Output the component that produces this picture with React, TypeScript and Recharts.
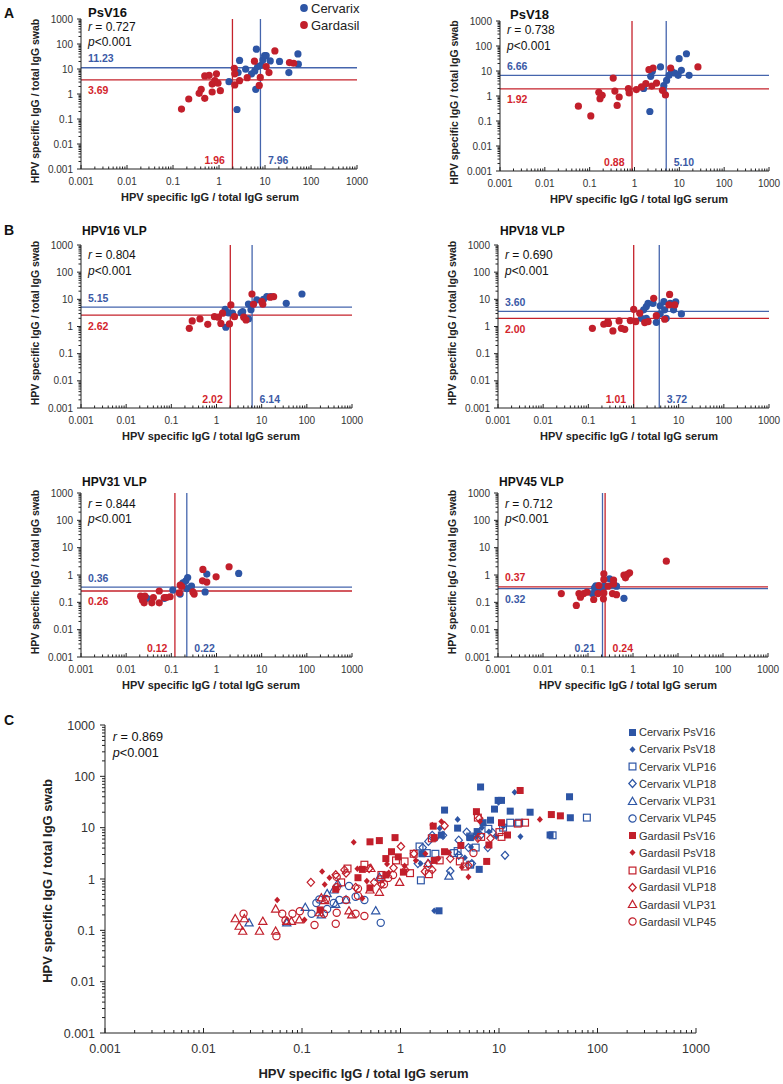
import React from 'react';
import { ScatterChart, Scatter, XAxis, YAxis, ReferenceLine, Legend } from 'recharts';

const FONT = '"Liberation Sans", Arial, Helvetica, sans-serif';
const BLUE = '#2d55a5';
const RED = '#c21f2b';
const BLUE_LINE = '#4565ad';
const RED_LINE = '#c5222b';
const BLUE_TEXT = '#3b5aa6';
const RED_TEXT = '#d3252d';
const AXIS = '#222';
const TICK = '#333';

// axis ticks (log 10, decades labelled)
const decades = [0.001, 0.01, 0.1, 1, 10, 100, 1000];
const minorSteps = [2, 3, 4, 5, 6, 7, 8, 9];
const logTicks = [
  ...decades,
  ...decades.slice(0, -1).flatMap((d) => minorSteps.map((m) => Number((d * m).toPrecision(2)))),
].sort((a, b) => a - b);
const isMajor = (v: number) => decades.includes(v);

// [serum ratio, swab ratio] per woman
const psv16Cervarix = [
  [1.65, 3.1], [2.46, 0.24], [2.6, 7.2], [2.8, 22], [3.8, 9.8], [5.1, 6.4], [6.0, 8.4], [6.5, 62],
  [6.3, 1.54], [6.9, 12.5], [8.2, 14], [9.0, 23], [9.8, 34], [10.6, 34], [13, 21], [20.7, 20],
  [33, 7.2], [52, 40], [53, 15.6],
];
const psv16Gardasil = [
  [0.153, 0.25], [0.22, 0.63], [0.37, 1.06], [0.41, 1.54], [0.49, 0.67], [0.49, 5.3], [0.61, 5.6],
  [0.71, 1.2], [0.71, 2.5], [0.81, 3.4], [0.88, 6.4], [0.95, 2.7], [1.07, 1.36], [2.15, 10.7],
  [2.2, 2.3], [2.2, 6.4], [2.8, 3.4], [4.1, 4.5], [5.9, 20.5], [7.9, 4.6], [7.5, 2.2], [16.4, 53],
  [10.6, 12.5], [12.2, 7.2], [34, 18], [42, 17],
];
const psv18Cervarix = [
  [2.2, 0.24], [2.3, 6.1], [2.5, 9.7], [3.8, 14.5], [4.5, 2.6], [5.2, 4.2], [5.9, 6.7], [6.7, 10],
  [7.9, 8.3], [9.4, 6.7], [9.9, 31], [11.1, 10.6], [14.4, 49], [16.5, 6.7], [1.6, 2.0],
];
const psv18Gardasil = [
  [0.056, 0.39], [0.106, 0.16], [0.16, 1.4], [0.17, 0.78], [0.19, 1.06], [0.335, 5.2], [0.365, 1.58],
  [0.41, 0.42], [0.455, 0.91], [0.73, 1.96], [0.76, 1.32], [1.1, 1.8], [1.43, 2.3], [1.79, 3.1],
  [2.1, 11.3], [2.43, 2.5], [2.6, 13.2], [3.1, 3.3], [4.2, 1.69], [4.9, 1.1], [6.4, 13.2], [26, 14.5],
];
const vlp16Cervarix = [
  [1.56, 4.3], [1.61, 0.94], [1.85, 3.2], [2.26, 3.1], [3.5, 3.2], [3.8, 3.5], [5.1, 1.9], [5.1, 6.7],
  [5.8, 4.1], [7.8, 9.5], [11, 10], [13, 12.5], [16, 12.5], [35, 7.1], [78, 15.7],
];
const vlp16Gardasil = [
  [0.25, 0.86], [0.29, 1.6], [0.43, 1.9], [0.64, 1.2], [0.9, 2.3], [1.1, 2.2], [1.25, 1.3], [1.36, 3.1],
  [1.94, 1.24], [2.08, 6.2], [2.5, 2.3], [4.0, 2.2], [4.5, 1.75], [6.1, 15.7], [6.6, 6.6], [10.1, 8.2],
  [10.6, 6.6], [18.4, 12.5], [15.5, 12],
];
const vlp18Cervarix = [
  [1.5, 2.0], [1.68, 4.1], [1.92, 5.4], [2.1, 7.1], [1.92, 2.0], [2.7, 7.1], [3.2, 1.43], [3.9, 5.7],
  [3.9, 2.9], [4.7, 8.2], [4.9, 4.1], [5.3, 2.0], [6.5, 7.1], [7.7, 4.1], [8.6, 8.0], [11.5, 2.9],
];
const vlp18Gardasil = [
  [0.123, 0.86], [0.22, 1.21], [0.27, 1.5], [0.28, 1.3], [0.35, 0.69], [0.48, 1.6], [0.54, 0.86],
  [0.64, 0.79], [0.85, 1.65], [1.01, 4.3], [1.12, 1.5], [1.37, 3.1], [1.77, 1.4], [2.1, 1.5],
  [2.8, 10.9], [3.2, 2.5], [4.9, 1.85], [6.1, 6.2], [6.3, 15.2], [8.2, 6.2],
];
const vlp31Cervarix = [
  [0.029, 0.14], [0.07, 0.14], [0.108, 0.28], [0.157, 0.2], [0.18, 0.52], [0.21, 0.61], [0.23, 0.81],
  [0.22, 0.32], [0.28, 0.39], [0.56, 0.24], [0.61, 1.08], [3.1, 1.14],
];
const vlp31Gardasil = [
  [0.021, 0.168], [0.023, 0.12], [0.026, 0.168], [0.025, 0.096], [0.037, 0.096], [0.04, 0.15],
  [0.054, 0.096], [0.054, 0.26], [0.07, 0.15], [0.078, 0.15], [0.094, 0.16], [0.15, 0.22],
  [0.157, 0.43], [0.17, 0.38], [0.32, 0.2], [0.5, 1.6], [0.49, 0.61], [0.61, 0.55], [0.98, 0.86],
  [1.9, 2.0], [0.3, 0.24],
];
const vlp45Cervarix = [
  [0.125, 0.21], [0.14, 0.34], [0.15, 0.4], [0.18, 0.26], [0.21, 0.34], [0.3, 0.73], [0.35, 0.45],
  [0.43, 0.39], [0.63, 0.14], [0.24, 0.39],
];
const vlp45Gardasil = [
  [0.0255, 0.21], [0.055, 0.077], [0.063, 0.21], [0.068, 0.155], [0.08, 0.21], [0.095, 0.236],
  [0.134, 0.127], [0.167, 0.21], [0.175, 0.41], [0.22, 0.134], [0.225, 0.22], [0.225, 0.69],
  [0.225, 1.1], [0.28, 0.39], [0.35, 0.21], [0.37, 0.65], [0.43, 0.19], [0.63, 0.99], [0.68, 0.79],
  [0.84, 1.2], [0.75, 1.05], [5.5, 3.2], [0.37, 0.47],
];

// cut-offs: [Cervarix serum, Cervarix swab, Gardasil serum, Gardasil swab]
const psv16Cutoffs = [7.96, 11.23, 1.96, 3.69];
const psv18Cutoffs = [5.1, 6.66, 0.88, 1.92];
const vlp16Cutoffs = [6.14, 5.15, 2.02, 2.62];
const vlp18Cutoffs = [3.72, 3.6, 1.01, 2.0];
const vlp31Cutoffs = [0.22, 0.36, 0.12, 0.26];
const vlp45Cutoffs = [0.21, 0.32, 0.24, 0.37];

const toXY = (arr: number[][]) => arr.map(([x, y]) => ({ x, y }));

const panels = [
  { title: 'PsV16', r: '0.727', cerv: psv16Cervarix, gard: psv16Gardasil, cut: psv16Cutoffs,
    plot: { left: 81, right: 357, top: 19, bottom: 169 }, titleX: 88, titleY: 17, titleSize: 13, statY: 30.5,
    xTitleX: 210, yTitleY: 101, legend: true },
  { title: 'PsV18', r: '0.738', cerv: psv18Cervarix, gard: psv18Gardasil, cut: psv18Cutoffs,
    plot: { left: 500, right: 769, top: 21, bottom: 171 }, titleX: 510, titleY: 18.5, titleSize: 13, statY: 34,
    xTitleX: 639, yTitleY: 102.5 },
  { title: 'HPV16 VLP', r: '0.804', cerv: vlp16Cervarix, gard: vlp16Gardasil, cut: vlp16Cutoffs,
    plot: { left: 81, right: 352, top: 245, bottom: 408 }, titleX: 82, titleY: 234.5, titleSize: 12, statY: 259.3,
    xTitleX: 211, yTitleY: 323 },
  { title: 'HPV18 VLP', r: '0.690', cerv: vlp18Cervarix, gard: vlp18Gardasil, cut: vlp18Cutoffs,
    plot: { left: 498, right: 769, top: 245, bottom: 408 }, titleX: 500, titleY: 234.5, titleSize: 12, statY: 259.3,
    xTitleX: 629, yTitleY: 323 },
  { title: 'HPV31 VLP', r: '0.844', cerv: vlp31Cervarix, gard: vlp31Gardasil, cut: vlp31Cutoffs,
    plot: { left: 81, right: 352, top: 493, bottom: 657 }, titleX: 82, titleY: 486.3, titleSize: 12, statY: 507.5,
    xTitleX: 211, yTitleY: 572 },
  { title: 'HPV45 VLP', r: '0.712', cerv: vlp45Cervarix, gard: vlp45Gardasil, cut: vlp45Cutoffs,
    plot: { left: 498, right: 768, top: 493, bottom: 657 }, titleX: 499, titleY: 486.3, titleSize: 12, statY: 507.5,
    xTitleX: 628, yTitleY: 572 },
];

const seriesC = [
  { name: 'Cervarix PsV16', data: psv16Cervarix, color: BLUE, kind: 'fsquare' },
  { name: 'Cervarix PsV18', data: psv18Cervarix, color: BLUE, kind: 'fdiamond' },
  { name: 'Cervarix VLP16', data: vlp16Cervarix, color: BLUE, kind: 'osquare' },
  { name: 'Cervarix VLP18', data: vlp18Cervarix, color: BLUE, kind: 'odiamond' },
  { name: 'Cervarix VLP31', data: vlp31Cervarix, color: BLUE, kind: 'otriangle' },
  { name: 'Cervarix VLP45', data: vlp45Cervarix, color: BLUE, kind: 'ocircle' },
  { name: 'Gardasil PsV16', data: psv16Gardasil, color: RED, kind: 'fsquare' },
  { name: 'Gardasil PsV18', data: psv18Gardasil, color: RED, kind: 'fdiamond' },
  { name: 'Gardasil VLP16', data: vlp16Gardasil, color: RED, kind: 'osquare' },
  { name: 'Gardasil VLP18', data: vlp18Gardasil, color: RED, kind: 'odiamond' },
  { name: 'Gardasil VLP31', data: vlp31Gardasil, color: RED, kind: 'otriangle' },
  { name: 'Gardasil VLP45', data: vlp45Gardasil, color: RED, kind: 'ocircle' },
];
const plotC = { left: 105, right: 696, top: 725, bottom: 1033 };

function Marker({ kind, color, cx, cy }: { kind: string; color: string; cx: number; cy: number }) {
  const sw = 1.2;
  switch (kind) {
    case 'fsquare':
      return <rect x={cx - 3.5} y={cy - 3.5} width={7} height={7} fill={color} />;
    case 'fdiamond':
      return <path d={`M${cx},${cy - 3.3}L${cx + 3},${cy}L${cx},${cy + 3.3}L${cx - 3},${cy}Z`} fill={color} />;
    case 'osquare':
      return <rect x={cx - 3.4} y={cy - 3.4} width={6.8} height={6.8} fill="none" stroke={color} strokeWidth={sw} />;
    case 'odiamond':
      return <path d={`M${cx},${cy - 4}L${cx + 3.7},${cy}L${cx},${cy + 4}L${cx - 3.7},${cy}Z`} fill="none" stroke={color} strokeWidth={sw} />;
    case 'otriangle':
      return <path d={`M${cx},${cy - 4.2}L${cx + 4.1},${cy + 3}L${cx - 4.1},${cy + 3}Z`} fill="none" stroke={color} strokeWidth={sw} />;
    default:
      return <circle cx={cx} cy={cy} r={3.6} fill="none" stroke={color} strokeWidth={sw} />;
  }
}

const makeXTick = (big: boolean) => (p: any) => {
  const { x, y, payload } = p;
  const v = payload.value;
  const major = isMajor(v);
  const len = major ? (big ? 5 : 4) : big ? 3 : 2.5;
  return (
    <g>
      <line x1={x} x2={x} y1={y} y2={y - len} stroke={AXIS} strokeWidth={1} />
      {major && (
        <text x={x} y={y + (big ? 19.5 : 15.5)} textAnchor="middle" fontSize={big ? 12.5 : 10} fill={TICK} fontFamily={FONT}>
          {String(v)}
        </text>
      )}
    </g>
  );
};

const makeYTick = (big: boolean) => (p: any) => {
  const { x, y, payload } = p;
  const v = payload.value;
  const major = isMajor(v);
  const len = major ? (big ? 5 : 4) : big ? 3 : 2.5;
  return (
    <g>
      <line x1={x} x2={x - len} y1={y} y2={y} stroke={AXIS} strokeWidth={1} />
      {major && (
        <text x={x - (big ? 10 : 8)} y={y + (big ? 4.5 : 3.6)} textAnchor="end" fontSize={big ? 12.5 : 10} fill={TICK} fontFamily={FONT}>
          {String(v)}
        </text>
      )}
    </g>
  );
};

const refLabel = (text: string, color: string, where: string) => (props: any) => {
  const { x, y, height } = props.viewBox;
  let tx = x + 7;
  let ty = y;
  let anchor = 'start';
  if (where === 'above') ty = y - 5.5;
  else if (where === 'below') ty = y + 14.5;
  else if (where === 'left') {
    tx = x - 7.5;
    ty = y + height - 5;
    anchor = 'end';
  } else {
    tx = x + 7.5;
    ty = y + height - 5;
  }
  return (
    <text x={tx} y={ty} textAnchor={anchor} fill={color} fontSize={10.5} fontWeight="bold" fontFamily={FONT}>
      {text}
    </text>
  );
};

const legendA = (props: any) => (
  <div style={{ fontFamily: FONT, fontSize: 13, color: '#222' }}>
    {(props.payload || []).map((e: any) => (
      <div key={e.value} style={{ height: 16.7, display: 'flex', alignItems: 'center' }}>
        <svg width={12} height={12} style={{ marginRight: 1 }}>
          <circle cx={6} cy={6} r={3.9} fill={e.color} />
        </svg>
        <span>{e.value}</span>
      </div>
    ))}
  </div>
);

const legendC = (props: any) => (
  <div style={{ fontFamily: FONT, fontSize: 11, color: '#333' }}>
    {(props.payload || []).map((e: any) => {
      const s = seriesC.find((c) => c.name === e.value);
      return (
        <div key={e.value} style={{ height: 17.27, display: 'flex', alignItems: 'center' }}>
          <svg width={11} height={11} style={{ marginRight: 1 }}>
            <Marker kind={s ? s.kind : 'ocircle'} color={s ? s.color : e.color} cx={5.5} cy={5.5} />
          </svg>
          <span>{e.value}</span>
        </div>
      );
    })}
  </div>
);

const YW = 75;
const MT = 20;
const XH = 45;

function SmallPanel({ cfg }: { cfg: any }) {
  const { plot, cut } = cfg;
  const mr = 22;
  const width = plot.right - plot.left + YW + mr;
  const height = plot.bottom - plot.top + MT + XH;
  const [cX, cY, gX, gY] = cut;
  const dot = (color: string) => (p: any) => <circle cx={p.cx} cy={p.cy} r={3.6} fill={color} />;
  return (
    <div style={{ position: 'absolute', left: plot.left - YW, top: plot.top - MT }}>
      <ScatterChart width={width} height={height} margin={{ top: MT, right: mr, bottom: 0, left: 0 }}>
        <XAxis type="number" dataKey="x" scale="log" domain={[0.001, 1000]} allowDataOverflow ticks={logTicks}
          interval={0} tickSize={0} tickMargin={0} tickLine={false} height={XH}
          axisLine={{ stroke: AXIS, strokeWidth: 1 }} tick={makeXTick(false)} />
        <YAxis type="number" dataKey="y" scale="log" domain={[0.001, 1000]} allowDataOverflow ticks={logTicks}
          interval={0} tickSize={0} tickMargin={0} tickLine={false} width={YW}
          axisLine={{ stroke: AXIS, strokeWidth: 1 }} tick={makeYTick(false)} />
        <ReferenceLine y={cY} stroke={BLUE_LINE} strokeWidth={1.3}
          label={refLabel(cY.toFixed(2), BLUE_TEXT, cY > gY ? 'above' : 'below')} />
        <ReferenceLine y={gY} stroke={RED_LINE} strokeWidth={1.3}
          label={refLabel(gY.toFixed(2), RED_TEXT, gY > cY ? 'above' : 'below')} />
        <ReferenceLine x={cX} stroke={BLUE_LINE} strokeWidth={1.3}
          label={refLabel(cX.toFixed(2), BLUE_TEXT, cX > gX ? 'right' : 'left')} />
        <ReferenceLine x={gX} stroke={RED_LINE} strokeWidth={1.3}
          label={refLabel(gX.toFixed(2), RED_TEXT, gX > cX ? 'right' : 'left')} />
        <Scatter name="Cervarix" data={toXY(cfg.cerv)} fill={BLUE} shape={dot(BLUE)} isAnimationActive={false} />
        <Scatter name="Gardasil" data={toXY(cfg.gard)} fill={RED} shape={dot(RED)} isAnimationActive={false} />
        {cfg.legend && (
          <Legend layout="vertical" align="center" verticalAlign="middle" content={legendA}
            wrapperStyle={{ position: 'absolute', left: 298 - (plot.left - YW), top: 0 - (plot.top - MT), width: 80 }} />
        )}
      </ScatterChart>
    </div>
  );
}

function BigPanel() {
  const mr = 783 - plotC.right;
  const width = plotC.right - plotC.left + YW + mr;
  const height = plotC.bottom - plotC.top + MT + 51;
  const left = plotC.left - YW;
  const top = plotC.top - MT;
  return (
    <div style={{ position: 'absolute', left, top }}>
      <ScatterChart width={width} height={height} margin={{ top: MT, right: mr, bottom: 0, left: 0 }}>
        <XAxis type="number" dataKey="x" scale="log" domain={[0.001, 1000]} allowDataOverflow ticks={logTicks}
          interval={0} tickSize={0} tickMargin={0} tickLine={false} height={51}
          axisLine={{ stroke: AXIS, strokeWidth: 1 }} tick={makeXTick(true)} />
        <YAxis type="number" dataKey="y" scale="log" domain={[0.001, 1000]} allowDataOverflow ticks={logTicks}
          interval={0} tickSize={0} tickMargin={0} tickLine={false} width={YW}
          axisLine={{ stroke: AXIS, strokeWidth: 1 }} tick={makeYTick(true)} />
        {seriesC.map((s) => (
          <Scatter key={s.name} name={s.name} data={toXY(s.data)} fill={s.color}
            shape={(p: any) => <Marker kind={s.kind} color={s.color} cx={p.cx} cy={p.cy} />}
            isAnimationActive={false} />
        ))}
        <Legend layout="vertical" align="center" verticalAlign="middle" content={legendC}
          wrapperStyle={{ position: 'absolute', left: 627 - left, top: 723.4 - top, width: 120 }} />
      </ScatterChart>
    </div>
  );
}

function Stat({ x, y, r, size = 12 }: { x: number; y: number; r: string; size?: number }) {
  return (
    <g fontFamily={FONT} fontSize={size} fill="#111">
      <text x={x} y={y}>
        <tspan fontStyle="italic">r</tspan> = {r}
      </text>
      <text x={x} y={y + 15.5}>
        <tspan fontStyle="italic">p</tspan>&lt;0.001
      </text>
    </g>
  );
}

export default function App() {
  const xTitle = 'HPV specific IgG / total IgG serum';
  const yTitle = 'HPV specific IgG / total IgG swab';
  return (
    <div style={{ position: 'absolute', left: 0, top: 0, width: 783, height: 1084, background: '#fff', fontFamily: FONT }}>
      {panels.map((p) => (
        <SmallPanel key={p.title} cfg={p} />
      ))}
      <BigPanel />
      <svg width={783} height={1084} style={{ position: 'absolute', left: 0, top: 0, pointerEvents: 'none' }}>
        <g fontFamily={FONT} fontWeight="bold" fontSize={14} fill="#111">
          <text x={4} y={18}>A</text>
          <text x={4} y={235}>B</text>
          <text x={4} y={725}>C</text>
        </g>
        {panels.map((p) => (
          <g key={p.title}>
            <text x={p.titleX} y={p.titleY} fontFamily={FONT} fontWeight="bold" fontSize={p.titleSize} fill="#111">
              {p.title}
            </text>
            <Stat x={p.plot.left + 7} y={p.statY} r={p.r} />
            <text x={p.xTitleX} y={p.plot.bottom + 32} textAnchor="middle" fontFamily={FONT} fontWeight="bold" fontSize={11} fill="#222">
              {xTitle}
            </text>
            <text transform={`translate(${p.plot.left - 42},${p.yTitleY}) rotate(-90)`} textAnchor="middle"
              fontFamily={FONT} fontWeight="bold" fontSize={10.5} fill="#222">
              {yTitle}
            </text>
          </g>
        ))}
        <Stat x={112.7} y={741.2} r="0.869" size={12.7} />
        <text x={363.5} y={1077.5} textAnchor="middle" fontFamily={FONT} fontWeight="bold" fontSize={13} fill="#222">
          {xTitle}
        </text>
        <text transform="translate(51.6,881) rotate(-90)" textAnchor="middle" fontFamily={FONT} fontWeight="bold" fontSize={13} fill="#222">
          {yTitle}
        </text>
      </svg>
    </div>
  );
}
